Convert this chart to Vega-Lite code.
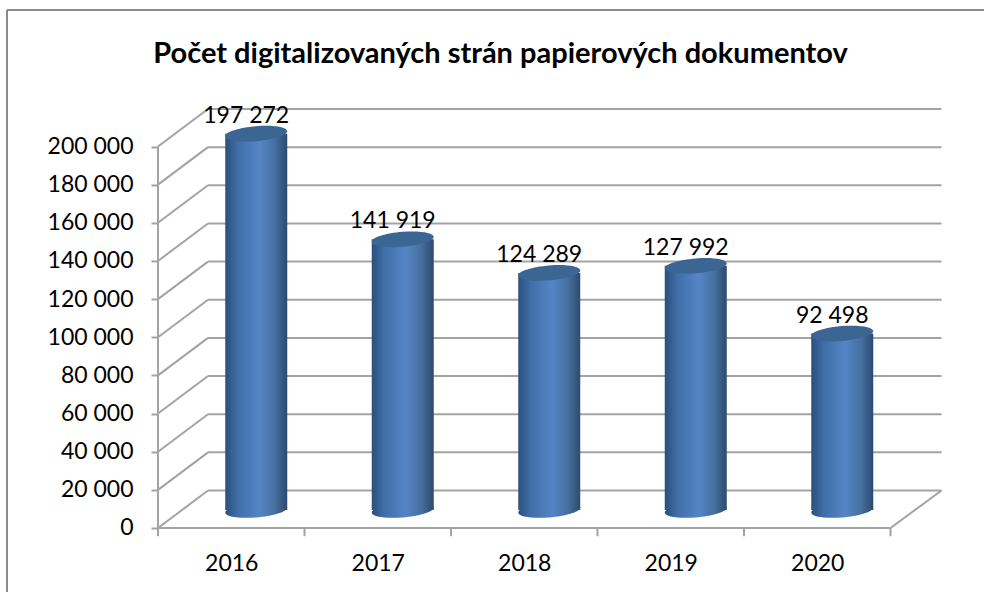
{
"$schema":"https://vega.github.io/schema/vega-lite/v6.json",
"width":977,"height":582,
"autosize":{"type":"none"},
"padding":{"left":7,"top":10,"right":0,"bottom":0},
"background":"white",
"config":{"view":{"stroke":null},"font":"Lato","text":{"font":"Lato"}},
"title":{"text":"Počet digitalizovaných strán papierových dokumentov","font":"Lato","fontWeight":"bold","fontSize":29,"color":"#000000","anchor":"middle","dx":5,"offset":-74,"baseline":"middle"},
"datasets":{
"bars":[{"year":2016,"value":197272,"label":"197 272"},{"year":2017,"value":141919,"label":"141 919"},{"year":2018,"value":124289,"label":"124 289"},{"year":2019,"value":127992,"label":"127 992"},{"year":2020,"value":92498,"label":"92 498"}],
"grid":[{"v":0},{"v":20000},{"v":40000},{"v":60000},{"v":80000},{"v":100000},{"v":120000},{"v":140000},{"v":160000},{"v":180000},{"v":200000}]
},
"layer":[
{"data":{"values":[{"a":1}]},"mark":{"type":"rule","color":"#8c8c8c","strokeWidth":2},"encoding":{"x":{"datum":2014.4693,"type":"quantitative"},"y":{"datum":-33552,"type":"quantitative"},"y2":{"datum":271560}}},
{"data":{"values":[{"a":1}]},"mark":{"type":"rule","color":"#8c8c8c","strokeWidth":2},"encoding":{"x":{"datum":2014.4693,"type":"quantitative"},"x2":{"datum":2021.1382},"y":{"datum":271560,"type":"quantitative"}}},
{"data":{"name":"grid"},"mark":{"type":"rule","color":"#a3a3a3","strokeWidth":2,"xOffset":50,"x2Offset":51,"yOffset":-37.5},"encoding":{"x":{"datum":2015.5,"type":"quantitative","scale":{"domain":[2014.4693,2021.1382],"nice":false,"zero":false,"padding":0},"axis":{"values":[2016,2017,2018,2019,2020],"format":"d","orient":"bottom","offset":-64,"domain":false,"ticks":false,"grid":false,"title":null,"labelFont":"Lato","labelFontSize":23,"labelColor":"#000000","labelPadding":24}},"x2":{"datum":2020.5},"y":{"field":"v","type":"quantitative","scale":{"domain":[-33552,271560],"nice":false,"zero":false,"padding":0},"axis":{"values":[0,20000,40000,60000,80000,100000,120000,140000,160000,180000,200000],"labelExpr":"replace(format(datum.value,','),',',' ')","orient":"left","offset":-151,"domain":false,"tickSize":7,"tickColor":"#a3a3a3","tickWidth":2,"grid":false,"title":null,"labelFont":"Lato","labelFontSize":23,"labelColor":"#000000","labelPadding":18}}}},
{"data":{"name":"grid"},"mark":{"type":"rule","color":"#a3a3a3","strokeWidth":2,"x2Offset":50,"y2Offset":-37.5},"encoding":{"x":{"datum":2015.5,"type":"quantitative"},"x2":{"datum":2015.5},"y":{"field":"v","type":"quantitative"},"y2":{"field":"v"}}},
{"data":{"values":[{"v":0}]},"mark":{"type":"rule","color":"#a3a3a3","strokeWidth":2,"x2Offset":51,"y2Offset":-37.5},"encoding":{"x":{"datum":2020.5,"type":"quantitative"},"x2":{"datum":2020.5},"y":{"field":"v","type":"quantitative"},"y2":{"field":"v"}}},
{"data":{"values":[{"v":0}]},"mark":{"type":"rule","color":"#a3a3a3","strokeWidth":2},"encoding":{"x":{"datum":2015.5,"type":"quantitative"},"x2":{"datum":2020.5},"y":{"field":"v","type":"quantitative"}}},
{"data":{"values":[{"a":1}]},"mark":{"type":"rule","color":"#a3a3a3","strokeWidth":2},"encoding":{"x":{"datum":2015.5,"type":"quantitative"},"y":{"datum":-4000,"type":"quantitative"},"y2":{"datum":200000}}},
{"data":{"values":[{"t":2015.5},{"t":2016.5},{"t":2017.5},{"t":2018.5},{"t":2019.5},{"t":2020.5}]},"mark":{"type":"rule","color":"#a3a3a3","strokeWidth":2},"encoding":{"x":{"field":"t","type":"quantitative"},"y":{"datum":0,"type":"quantitative"},"y2":{"datum":-4300}}},
{"data":{"name":"bars"},"mark":{"type":"point","filled":true,"opacity":1,"size":3844,"xOffset":25,"yOffset":-18,"shape":"M-1,.08C-1,-.0526,-.5523,-.1958,0,-.24C.5523,-.2842,1,-.2126,1,-.08C1,.0526,.5523,.1958,0,.24C-.5523,.2842,-1,.2126,-1,.08Z","fill":{"gradient":"linear","x1":0,"y1":0,"x2":1,"y2":0,"stops":[{"offset":0,"color":"#2b4f7c"},{"offset":0.2,"color":"#3f6ea8"},{"offset":0.55,"color":"#5585c5"},{"offset":0.8,"color":"#45709f"},{"offset":1,"color":"#2c4a6e"}]}},"encoding":{"x":{"field":"year","type":"quantitative"},"y":{"datum":0,"type":"quantitative"}}},
{"data":{"name":"bars"},"mark":{"type":"bar","orient":"vertical","size":62,"xOffset":25,"yOffset":-18,"y2Offset":-18,"fill":{"gradient":"linear","x1":0,"y1":0,"x2":1,"y2":0,"stops":[{"offset":0,"color":"#2b4f7c"},{"offset":0.2,"color":"#3f6ea8"},{"offset":0.55,"color":"#5585c5"},{"offset":0.8,"color":"#45709f"},{"offset":1,"color":"#2c4a6e"}]}},"encoding":{"x":{"field":"year","type":"quantitative"},"y":{"field":"value","type":"quantitative"},"y2":{"datum":0}}},
{"data":{"name":"bars"},"mark":{"type":"point","filled":true,"opacity":1,"size":3844,"xOffset":25,"yOffset":-18,"shape":"M-1,.08C-1,-.0526,-.5523,-.1958,0,-.24C.5523,-.2842,1,-.2126,1,-.08C1,.0526,.5523,.1958,0,.24C-.5523,.2842,-1,.2126,-1,.08Z","fill":"#3b6593"},"encoding":{"x":{"field":"year","type":"quantitative"},"y":{"field":"value","type":"quantitative"}}},
{"data":{"name":"bars"},"mark":{"type":"text","font":"Lato","fontSize":23,"color":"#000000","dx":15,"dy":-36,"align":"center","baseline":"middle"},"encoding":{"x":{"field":"year","type":"quantitative"},"y":{"field":"value","type":"quantitative"},"text":{"field":"label"}}}
]
}
